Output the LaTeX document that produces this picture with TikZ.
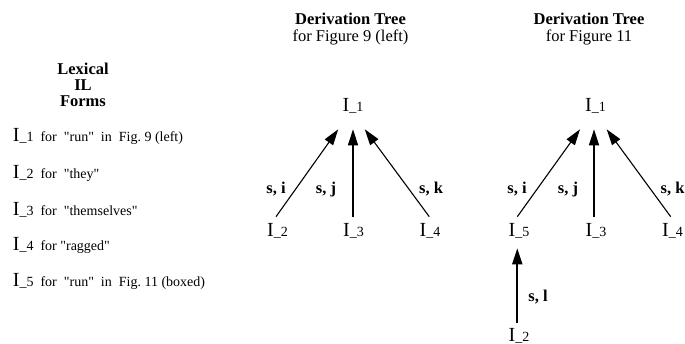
\documentclass[tikz,border=0pt]{standalone}
\usepackage{fontspec}
\setmainfont{Liberation Serif}[Ligatures=TeXOff]
\usetikzlibrary{arrows.meta,calc}
\newcommand\bigI{{\fontsize{20pt}{20pt}\selectfont I}}
\newcommand\ilab[1]{\bigI\_#1}
\begin{document}
\begin{tikzpicture}[x=1pt,y=-1pt,
  txt/.style={inner sep=0pt, anchor=base west, font=\fontsize{14pt}{14pt}\selectfont},
  lab/.style={inner sep=0pt, anchor=base, font=\fontsize{14pt}{14pt}\selectfont},
  head/.style={inner sep=0pt, anchor=base, font=\fontsize{16.5pt}{16.5pt}\selectfont\bfseries},
  subhead/.style={inner sep=0pt, anchor=base, font=\fontsize{16.5pt}{16.5pt}\selectfont},
  elab/.style={inner sep=0pt, anchor=base, font=\fontsize{16.5pt}{16.5pt}\selectfont\bfseries},
  arr/.style={-{Triangle[length=16pt,width=10pt]}, line width=1.1pt},
  varr/.style={arr, line width=1.7pt}]
\useasboundingbox (0,0) rectangle (685,343);

% left column
\node[head] (lx1) at (83,74) {Lexical};
\node[head] (lx2) at (83,90) {IL};
\node[head] (lx3) at (83,106.7) {Forms};
\node[txt] (li1) at (12.7,141.7) {\ilab{1}\ \ for\ \ "run"\ \ in\ \ Fig.\ 9 (left)};
\node[txt] (li2) at (12.7,178.3) {\ilab{2}\ \ for\ \ "they"};
\node[txt] (li3) at (12.7,215) {\ilab{3}\ \ for\ \ "themselves"};
\node[txt] (li4) at (12.7,250.5) {\ilab{4}\ \ for "ragged"};
\node[txt] (li5) at (12.7,286.7) {\ilab{5}\ \ for\ \ "run"\ \ in\ \ Fig.\ 11 (boxed)};

% tree 1
\node[head] (t1a) at (350.5,24) {Derivation Tree};
\node[subhead] (t1b) at (350.5,41.7) {for Figure 9 (left)};
\node[lab] (n1) at (353,111.5) {\ilab{1}};
\node[lab] (n2) at (277.5,236) {\ilab{2}};
\node[lab] (n3) at (353.5,236) {\ilab{3}};
\node[lab] (n4) at (430,236) {\ilab{4}};
\draw[arr] ($(n2.base)+(-1.5,-19.3)$) -- ($(n1.base)+(-14.8,17.8)$);
\draw[varr] ($(n3.base)+(-0.5,-18.7)$) -- ($(n1.base)+(0,17.8)$);
\draw[arr] ($(n4.base)+(-0.7,-19.3)$) -- ($(n1.base)+(11.8,17.8)$);
\node[elab] (e1) at (276,193) {s, i};
\node[elab] (e2) at (326,193) {s, j};
\node[elab] (e3) at (431,193) {s, k};

% tree 2
\node[head] (t2a) at (589,24) {Derivation Tree};
\node[subhead] (t2b) at (589,41.7) {for Figure 11};
\node[lab] (m1) at (595.5,111.5) {\ilab{1}};
\node[lab] (m5) at (519,236) {\ilab{5}};
\node[lab] (m3) at (596,236) {\ilab{3}};
\node[lab] (m4) at (672.5,236) {\ilab{4}};
\node[lab] (m2) at (519,341) {\ilab{2}};
\draw[arr] ($(m5.base)+(-1.7,-19.3)$) -- ($(m1.base)+(-15.5,17.8)$);
\draw[varr] ($(m3.base)+(-2,-18.7)$) -- ($(m1.base)+(-1.5,17.8)$);
\draw[arr] ($(m4.base)+(-1.8,-19.3)$) -- ($(m1.base)+(11.2,17.8)$);
\draw[varr] ($(m2.base)+(-1.7,-17.7)$) -- ($(m5.base)+(-1.7,12.3)$);
\node[elab] (f1) at (517,193) {s, i};
\node[elab] (f2) at (568,193) {s, j};
\node[elab] (f3) at (672.5,193) {s, k};
\node[elab] (f4) at (538,301.7) {s, l};
\end{tikzpicture}
\end{document}
